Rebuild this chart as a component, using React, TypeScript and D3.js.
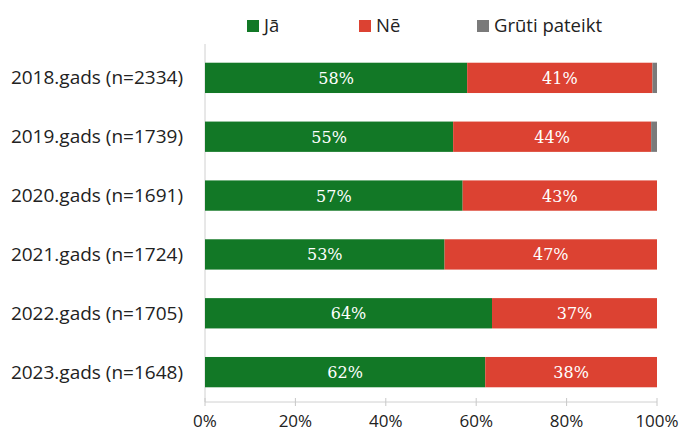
import React from "react";
import * as d3 from "d3";

const categories = [
  "2018.gads (n=2334)",
  "2019.gads (n=1739)",
  "2020.gads (n=1691)",
  "2021.gads (n=1724)",
  "2022.gads (n=1705)",
  "2023.gads (n=1648)",
];
const seriesNames = ["Jā", "Nē", "Grūti pateikt"];
const jaValues = [58, 54.9, 57, 53, 63.5, 62];
const neValues = [41, 43.8, 43, 47, 36.5, 38];
const grutiValues = [1, 1.3, 0, 0, 0, 0];
const xTicks = [0, 20, 40, 60, 80, 100];
const colors = ["#127826", "#dc4232", "#7a7a7a"];

const W = 684;
const H = 434;
const margin = { left: 205, right: 27, top: 48, bottom: 32 };

export default function App() {
  const x = d3.scaleLinear().domain([0, 100]).range([margin.left, W - margin.right]);
  const y = d3
    .scaleBand()
    .domain(categories)
    .range([margin.top, H - margin.bottom])
    .paddingInner(0.485)
    .paddingOuter(0.25);

  const rows = categories.map((c, i) => ({ c, vals: [jaValues[i], neValues[i], grutiValues[i]] }));
  const stack = d3.stack<any>().keys(["0", "1", "2"]).value((d: any, k: string) => d.vals[+k]);
  const series = stack(rows as any);
  const axisY = H - margin.bottom;

  const labelFont = "Open Sans, Liberation Sans, sans-serif";
  const legendItems = [
    { x: 247, name: seriesNames[0], color: colors[0] },
    { x: 359, name: seriesNames[1], color: colors[1] },
    { x: 477, name: seriesNames[2], color: colors[2] },
  ];

  return (
    <svg width={W} height={H} style={{ position: "absolute", left: 0, top: 0, background: "#fff" }}>
      {/* legend */}
      {legendItems.map((l, i) => (
        <g key={i}>
          <rect x={l.x} y={20} width={12} height={12} fill={l.color} />
          <text x={l.x + 17} y={32} fontFamily={labelFont} fontSize={18.5} fill="#222">
            {l.name}
          </text>
        </g>
      ))}
      {/* vertical axis */}
      <line x1={margin.left} x2={margin.left} y1={margin.top - 4} y2={axisY} stroke="#d0d0d0" />
      {/* horizontal axis */}
      <line x1={margin.left} x2={W - margin.right} y1={axisY} y2={axisY} stroke="#d0d0d0" />
      {xTicks.map((t) => (
        <g key={t}>
          <line x1={x(t)} x2={x(t)} y1={axisY - 4} y2={axisY + 4} stroke="#c8c8c8" />
          <text
            x={x(t)}
            y={axisY + 25}
            textAnchor="middle"
            fontFamily={labelFont}
            fontSize={17}
            fill="#222"
          >
            {t}%
          </text>
        </g>
      ))}
      {/* bars */}
      {series.map((s, si) => (
        <g key={si}>
          {s.map((d: any, i: number) => {
            const w = x(d[1]) - x(d[0]);
            if (w <= 0) return null;
            return (
              <rect
                key={i}
                x={x(d[0])}
                y={y(categories[i])!}
                width={w}
                height={y.bandwidth()}
                fill={colors[si]}
              />
            );
          })}
        </g>
      ))}
      {/* data labels */}
      {series.slice(0, 2).map((s, si) => (
        <g key={si}>
          {s.map((d: any, i: number) => (
            <text
              key={i}
              x={(x(d[0]) + x(d[1])) / 2}
              y={y(categories[i])! + y.bandwidth() / 2 + 6}
              textAnchor="middle"
              fontFamily="DejaVu Serif, Liberation Serif, serif"
              fontSize={16}
              fill="#fff"
            >
              {Math.round(d[1] - d[0])}%
            </text>
          ))}
        </g>
      ))}
      {/* category labels */}
      {categories.map((c) => (
        <text
          key={c}
          x={183}
          y={y(c)! + y.bandwidth() / 2 + 6.5}
          textAnchor="end"
          fontFamily={labelFont}
          fontSize={19}
          fill="#222"
        >
          {c}
        </text>
      ))}
    </svg>
  );
}
